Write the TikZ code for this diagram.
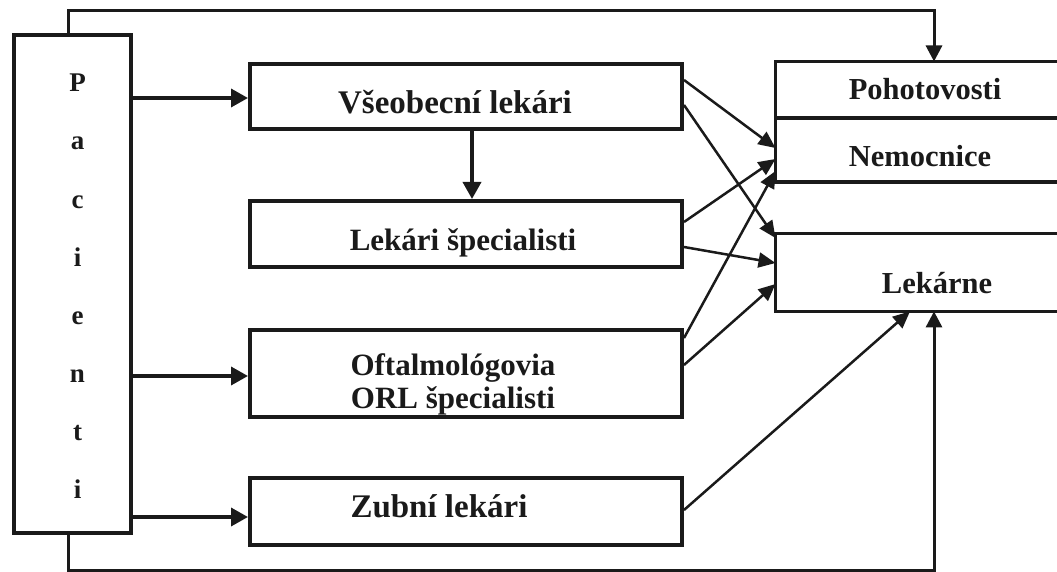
\documentclass[tikz,border=0pt]{standalone}
\usepackage{fontspec}
\setmainfont{Liberation Serif}
\usetikzlibrary{arrows.meta,calc}
\definecolor{ink}{RGB}{26,26,26}
\begin{document}
\begin{tikzpicture}[x=1pt,y=-1pt,
  box/.style={draw=ink,line width=4pt,inner sep=0pt},
  open/.style={draw=none,inner sep=0pt,anchor=north west},
  side/.style={draw=ink,line width=3.5pt},
  lbl/.style={anchor=base,inner sep=0pt,text=ink},
  loop/.style={draw=ink,line width=3pt,-{Triangle[length=16pt,width=16pt]}},
  arr/.style={draw=ink,line width=3.5pt,-{Triangle[length=17pt,width=18pt]}},
  diag/.style={draw=ink,line width=2.5pt,-{Triangle[length=17pt,width=15pt]}},
  fa/.style={font=\bfseries\fontsize{33}{36}\selectfont},
  fb/.style={font=\bfseries\fontsize{31}{33}\selectfont},
  fc/.style={font=\bfseries\fontsize{30.5}{33}\selectfont},
  fd/.style={font=\bfseries\fontsize{27}{28}\selectfont},
]
\useasboundingbox (0,0) rectangle (1057,572);

% left column: patients
\node[box,minimum width=117pt,minimum height=498pt] (pac) at (72.5,284) {};
\foreach \ch [count=\i] in {P,a,c,i,e,n,t,i}
  \node[lbl,fd] (pl\i) at (77.5,{92+58*(\i-1)}) {\ch};

% middle column
\node[box,minimum width=432pt,minimum height=65.5pt] (vseo) at (466,96.75) {};
\node[box,minimum width=432pt,minimum height=66pt] (spec) at (466,234) {};
\node[box,minimum width=432pt,minimum height=86.5pt] (oft) at (466,373.25) {};
\node[box,minimum width=432pt,minimum height=67pt] (zub) at (466,511.5) {};

\node[lbl,fa] (tvseo) at (455,114) {Všeobecní lekári};
\node[lbl,fb] (tspec) at (463,250) {Lekári špecialisti};
\node[lbl,fb] (toft1) at (453,375) {Oftalmológovia};
\node[lbl,fb] (toft2) at (453,408) {ORL špecialisti};
\node[lbl,fa] (tzub) at (439,517) {Zubní lekári};

% right column (open on the right)
\node[open,minimum width=281.5pt,minimum height=120pt] (pn) at (775.5,61.5) {};
\node[open,minimum width=281.5pt,minimum height=77.5pt] (lek) at (775.5,233.5) {};
\draw[side] (pn.north east) -- (pn.north west) -- (pn.south west) -- (pn.south east);
\draw[side] (pn.west |- 0,118) -- (pn.east |- 0,118);
\draw[side] (lek.north east) -- (lek.north west) -- (lek.south west) -- (lek.south east);

\node[lbl,fc] (tpoh) at (925,100) {Pohotovosti};
\node[lbl,fc] (tnem) at (920,167) {Nemocnice};
\node[lbl,fc] (tlek) at (937,293) {Lekárne};

% loops
\coordinate (tl) at (68,10.5);
\coordinate (tr) at (934,10.5);
\coordinate (bl) at (68,570);
\coordinate (br) at (934,570);
\draw[loop] (tl |- pac.north) -- (tl) -- (tr) -- (tr |- pn.north);
\draw[loop] (bl |- pac.south) -- (bl) -- (br) -- (br |- lek.south);

% patients to doctors
\draw[arr] (pac.east |- 0,98) -- (vseo.west |- 0,98);
\draw[arr] (pac.east |- 0,376) -- (oft.west |- 0,376);
\draw[arr] (pac.east |- 0,517) -- (zub.west |- 0,517);
\draw[arr] (472,0 |- vseo.south) -- (472,0 |- spec.north);

% doctors to hospitals / pharmacies
\draw[diag] (vseo.east |- 0,80) -- (pn.west |- 0,148);
\draw[diag] (vseo.east |- 0,105) -- (lek.west |- 0,238);
\draw[diag] (spec.east |- 0,222) -- (pn.west |- 0,159);
\draw[diag] (spec.east |- 0,247) -- (lek.west |- 0,263);
\draw[diag] (oft.east |- 0,338) -- (pn.west |- 0,171);
\draw[diag] (oft.east |- 0,365) -- (lek.west |- 0,284);
\draw[diag] (zub.east |- 0,510) -- (910,0 |- lek.south);
\end{tikzpicture}
\end{document}
